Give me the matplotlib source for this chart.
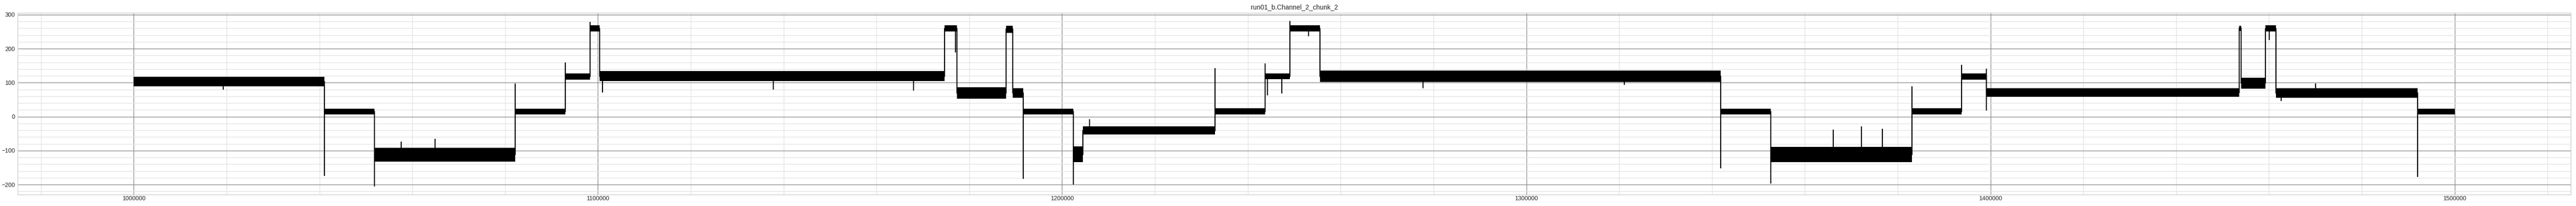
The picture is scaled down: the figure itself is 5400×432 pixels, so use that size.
import numpy as np
import matplotlib
matplotlib.use("Agg")
import matplotlib.pyplot as plt
from matplotlib.ticker import MultipleLocator, ScalarFormatter

# ---- data (sample index vs. current level) ----
seg_start = [1000000, 1041070, 1051820, 1082190, 1092930, 1098310, 1100410,
             1174720, 1177300, 1187900, 1189340, 1191600, 1202390, 1204430,
             1232920, 1243720, 1249100, 1255550, 1341850, 1352700, 1383050,
             1393800, 1399070, 1453540, 1454040, 1459230, 1461520, 1492030]
seg_stop = 1500000
seg_hi = [117, 23, -92, 23, 127, 269, 134, 269, 87, 268, 84, 23, -88, -29,
          24, 127, 269, 135, 23, -89, 24, 127, 84, 268, 115, 269, 83, 23]
seg_lo = [89, 6, -132, 6, 109, 250, 104, 250, 53, 247, 56, 6, -134, -53,
          6, 110, 250, 102, 6, -134, 6, 109, 58, 252, 82, 250, 56, 6]

spike_x = [1019270, 1041070, 1051820, 1057670, 1064930, 1082190, 1092930,
           1098310, 1101000, 1137740, 1168010, 1177060, 1191600, 1202390,
           1205890, 1232920, 1243720, 1244290, 1247300, 1249100, 1253100,
           1277740, 1321150, 1341850, 1352700, 1366170, 1372190, 1376700,
           1383050, 1393800, 1399070, 1399070, 1460050, 1462660, 1470070,
           1492030]
spike_y = [79, -174, -205, -74, -65, 98, 160,
           279, 71, 80, 77, 189, -183, -200,
           -7, 143, 157, 63, 68, 281, 237,
           84, 93, -152, -197, -39, -28, -36,
           89, 153, 141, 18, 225, 46, 97,
           -177]

title = "run01_b.Channel_2_chunk_2"

# ---- styling ----
plt.rcParams['font.family'] = ['Liberation Sans Narrow', 'Liberation Sans', 'DejaVu Sans']
plt.rcParams['axes.unicode_minus'] = True

fig = plt.figure(figsize=(54, 4.32), dpi=100)
ax = fig.add_axes([37 / 5400, 24 / 432, 5352 / 5400, 381 / 432])
ax.set_facecolor('white')

edges = np.array(seg_start + [seg_stop], dtype=float)
hi = np.array(seg_hi, dtype=float)
lo = np.array(seg_lo, dtype=float)
mid = (hi + lo) / 2.0

# noisy band of each level
ax.stairs(hi, edges, baseline=lo, fill=True, color='black', lw=0.8, zorder=3)
# transitions between levels
ax.stairs(mid, edges, baseline=None, color='black', lw=1.6, zorder=3)
# spikes
sx = np.array(spike_x, dtype=float)
idx = np.clip(np.searchsorted(edges, sx, side='right') - 1, 0, len(mid) - 1)
base = mid[idx]
ax.vlines(sx, base, np.array(spike_y, dtype=float), color='black', lw=1.6, zorder=3)

ax.set_title(title, fontsize=10, color='#262626', pad=6)

ax.xaxis.set_major_locator(MultipleLocator(100000))
ax.xaxis.set_minor_locator(MultipleLocator(20000))
ax.yaxis.set_major_locator(MultipleLocator(100))
ax.yaxis.set_minor_locator(MultipleLocator(20))
fmt = ScalarFormatter(useOffset=False)
fmt.set_scientific(False)
ax.xaxis.set_major_formatter(fmt)

ax.grid(which='major', color='#8a8a8a', lw=1.0, zorder=0)
ax.grid(which='minor', color='#e3e3e3', lw=1.0, zorder=0)
ax.set_axisbelow(True)
ax.tick_params(which='both', length=0, labelsize=9, colors='#262626')
ax.tick_params(axis='x', pad=2)
ax.tick_params(axis='y', pad=4)
for s in ax.spines.values():
    s.set_color('#cccccc')
    s.set_linewidth(1.0)

fig.savefig('out.png', dpi=100, facecolor='white')
